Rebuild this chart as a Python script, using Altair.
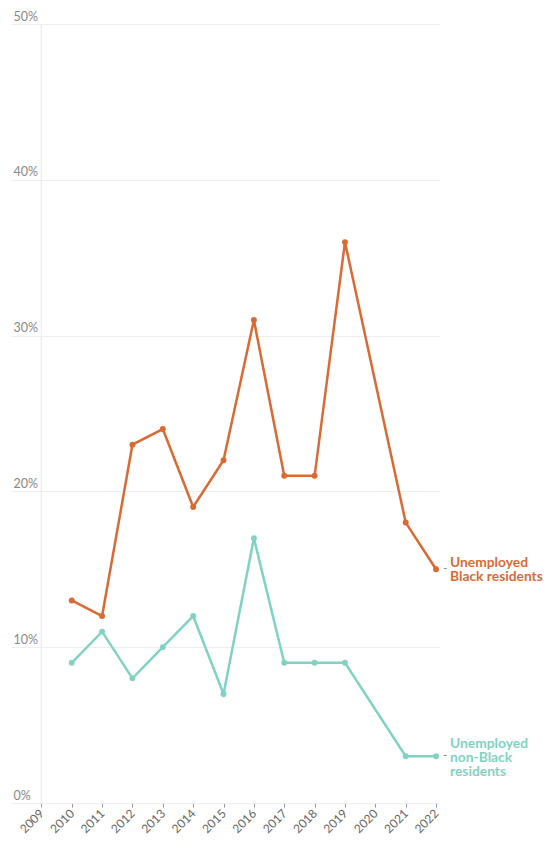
import altair as alt
import pandas as pd

years = [2010, 2011, 2012, 2013, 2014, 2015, 2016, 2017, 2018, 2019, 2021, 2022]
black = [13, 12, 23, 24, 19, 22, 31, 21, 21, 36, 18, 15]
non_black = [9, 11, 8, 10, 12, 7, 17, 9, 9, 9, 3, 3]
tick_years = list(range(2009, 2023))
y_ticks = [0, 10, 20, 30, 40, 50]

series_names = ["Black", "Non-Black"]
series_labels = ["Unemployed\nBlack residents", "Unemployed\nnon-Black\nresidents"]
colors = ["#da6a33", "#82d2c3"]

rows = []
for y, b, n in zip(years, black, non_black):
    rows.append({"year": y, "value": b, "series": "Black"})
    rows.append({"year": y, "value": n, "series": "Non-Black"})
df = pd.DataFrame(rows)

last = pd.DataFrame({
    "year": [years[-1], years[-1]],
    "value": [black[-1], non_black[-1]],
    "series": series_names,
    "label": series_labels,
})

FONT = "Lato"

x_enc = alt.X("year:Q", scale=alt.Scale(domain=[2008, 2022.13], nice=False, zero=False),
              axis=alt.Axis(values=tick_years, format="d", labelAngle=-45, labelAlign="right",
                            labelBaseline="middle", labelPadding=4,
                            tickColor="#999", tickSize=4, domainColor="#eeeeee",
                            labelColor="#666", labelFontSize=12, grid=False, title=None,
                            labelFont=FONT, labelOverlap=False, labelBound=False))
y_enc = alt.Y("value:Q", scale=alt.Scale(domain=[0, 50], nice=False),
              axis=alt.Axis(values=y_ticks, labelExpr="datum.value + '%'", labelAlign="left",
                            labelBaseline="bottom", labelPadding=-2, labelOffset=-1,
                            ticks=False, domain=False, gridColor="#eeeeee",
                            labelColor="#888", labelFontSize=12.5, title=None, labelFont=FONT))
color_enc = alt.Color("series:N", scale=alt.Scale(domain=series_names, range=colors), legend=None)

base = alt.Chart(df)

vline = alt.Chart(pd.DataFrame({"year": [tick_years[0]]})).mark_rule(
    color="#eeeeee", strokeWidth=1.5
).encode(x=x_enc, y=alt.value(0), y2=alt.value(779))

lines = base.mark_line(strokeWidth=2.5).encode(x=x_enc, y=y_enc, color=color_enc,
                                                 detail="series:N")
points = base.mark_circle(size=35, opacity=1).encode(x=x_enc, y=y_enc, color=color_enc)

dash = alt.Chart(last).mark_text(text="-", align="left", baseline="middle", dx=7, dy=-1,
                                 fontSize=12, color="#888", font=FONT).encode(
    x=x_enc, y=y_enc)

label_layers = []
for name, shift in zip(series_names, [-6, -12]):
    label_layers.append(
        alt.Chart(last[last["series"] == name]).mark_text(
            align="left", baseline="middle", dx=14, dy=shift, fontSize=13.8,
            fontWeight="bold", lineBreak="\n", lineHeight=14, font=FONT
        ).encode(x=x_enc, y=y_enc, text="label:N", color=color_enc)
    )

chart = alt.layer(vline, lines, points, dash, *label_layers).properties(
    width=429, height=779,
    autosize=alt.AutoSizeParams(type="none"),
    padding={"left": 3, "top": 16, "right": 105, "bottom": 32},
).configure_view(stroke=None)

chart.save("out.html", embed_options={"renderer": "svg", "actions": False})
